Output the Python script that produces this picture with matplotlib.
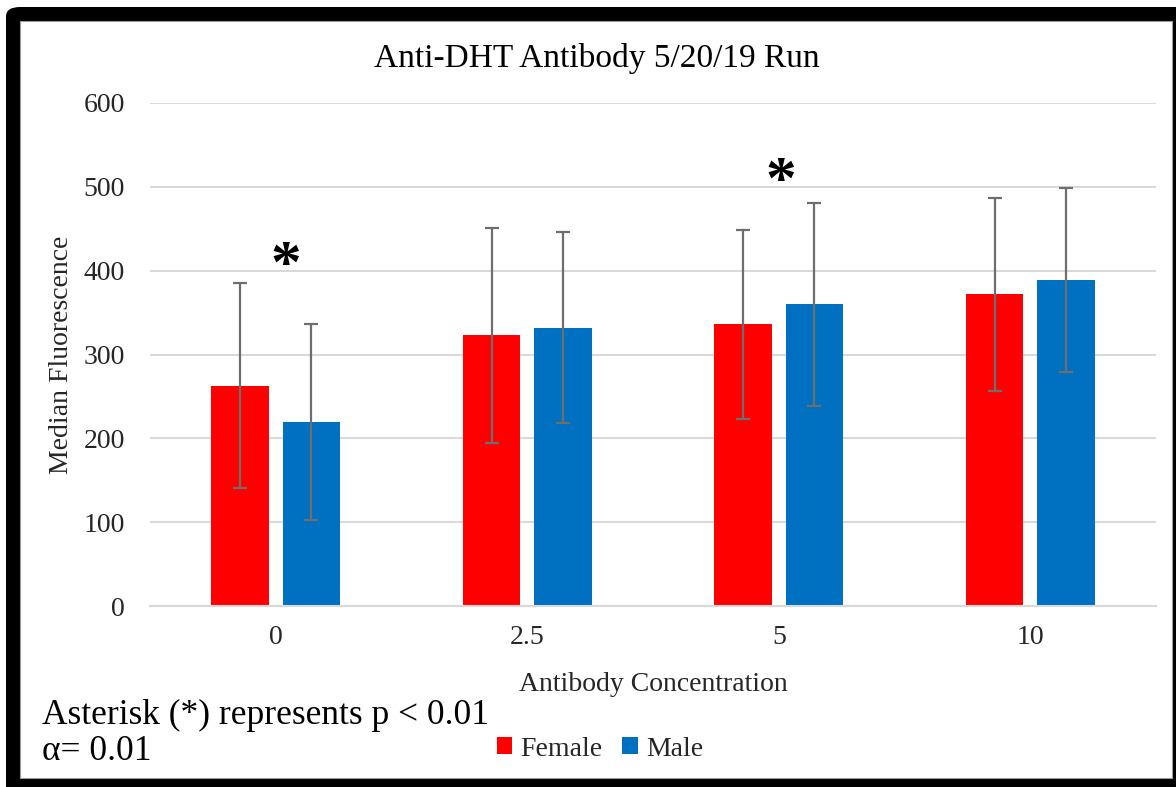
import matplotlib
matplotlib.use("Agg")
import matplotlib.pyplot as plt
from matplotlib.patches import Rectangle, FancyBboxPatch
import numpy as np

categories = ["0", "2.5", "5", "10"]
female = [263, 323, 336, 372]
female_err = [122, 128, 113, 115]
male = [219, 332, 360, 389]
male_err = [117, 114, 121, 110]
yticks = [0, 100, 200, 300, 400, 500, 600]
star_pos = [0.04, 2.01]
star_val = [386, 487]

plt.rcParams['font.family'] = ['Liberation Serif', 'DejaVu Serif']

W, H = 1176, 787
fig = plt.figure(figsize=(W / 100, H / 100), dpi=100)
fig.patch.set_facecolor('white')

def fx(px):
    return px / W

def fy(py):
    return 1 - py / H

# black frame
outer = FancyBboxPatch((fx(6), -0.2), 1.2, fy(7) + 0.2, boxstyle="round,pad=0,rounding_size=0.012",
                       transform=fig.transFigure, facecolor='black', edgecolor='none', zorder=-20)
fig.patches.append(outer)
inner = Rectangle((fx(20), fy(778)), fx(1172) - fx(20), fy(21) - fy(778),
                  transform=fig.transFigure, facecolor='white', edgecolor='#9a9a9a', lw=0.8, zorder=-19)
fig.patches.append(inner)

ax = fig.add_axes([fx(150), fy(606), fx(1156) - fx(150), fy(103) - fy(606)])
ax.set_facecolor('none')

x = np.arange(len(categories))
w = 0.227
off = 0.142
ax.bar(x - off, female, width=w, color='#FF0000', zorder=2, label='Female')
ax.bar(x + off, male, width=w, color='#0070C0', zorder=2, label='Male')
ax.errorbar(x - off, female, yerr=female_err, fmt='none', ecolor='#6e6e6e',
            elinewidth=1.6, capsize=5, capthick=1.6, zorder=3)
ax.errorbar(x + off, male, yerr=male_err, fmt='none', ecolor='#6e6e6e',
            elinewidth=1.6, capsize=5, capthick=1.6, zorder=3)

for sx, sv in zip(star_pos, star_val):
    ax.text(sx, sv, "*", fontsize=44, fontweight='bold', ha='center', va='baseline',
            color='black', zorder=4)

ax.set_xlim(-0.5, len(categories) - 0.5)
ax.set_ylim(0, 600)
ax.set_yticks(yticks)
ax.set_xticks(x)
ax.set_xticklabels(categories)
ax.grid(axis='y', color='#D9D9D9', lw=1.5, zorder=0)
ax.set_axisbelow(True)
for s in ['top', 'right', 'left']:
    ax.spines[s].set_visible(False)
ax.spines['bottom'].set_color('#D9D9D9')
ax.spines['bottom'].set_linewidth(1.5)
ax.tick_params(axis='both', length=0, labelsize=20, colors='#262626')
ax.tick_params(axis='y', pad=18)
ax.tick_params(axis='x', pad=14)

fig.text(fx(597), fy(67), "Anti-DHT Antibody 5/20/19 Run", fontsize=24, ha='center', va='baseline', color='black')
fig.text(fx(61), fy(355), "Median Fluorescence", fontsize=20, rotation=90, ha='center', va='center', color='#262626')
fig.text(fx(653), fy(691), "Antibody Concentration", fontsize=20, ha='center', va='baseline', color='#262626')
fig.text(fx(42), fy(724), "Asterisk (*) represents p < 0.01", fontsize=25.5, ha='left', va='baseline', color='black')
fig.text(fx(42), fy(760), "α= 0.01", fontsize=25.5, ha='left', va='baseline', color='black')

leg = fig.legend(loc='center', bbox_to_anchor=(fx(600), fy(749)), ncol=2, frameon=False,
                 fontsize=20, handlelength=0.55, handleheight=0.55, handletextpad=0.3,
                 columnspacing=0.7)
for t in leg.get_texts():
    t.set_color('#262626')

fig.savefig("out.png", dpi=100)
